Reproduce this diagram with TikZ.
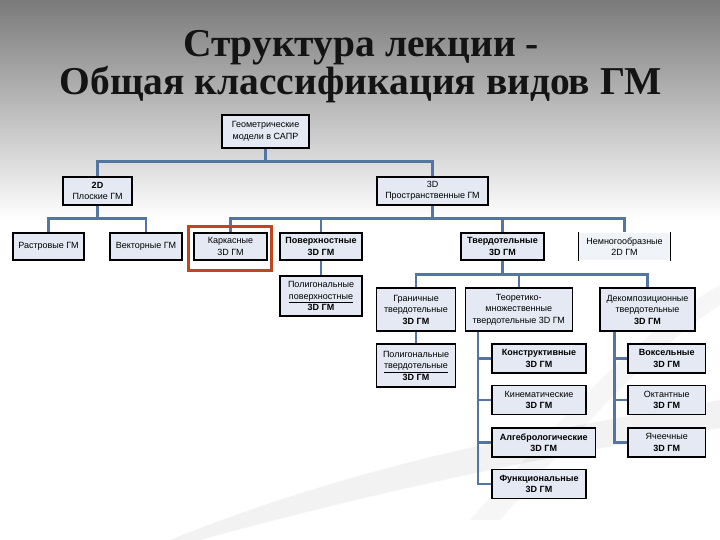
\documentclass[tikz,border=0pt]{standalone}
\usepackage{fontspec}
\setmainfont{Liberation Sans}
\newfontfamily\titlefont{Liberation Serif}
\usetikzlibrary{positioning}

\definecolor{boxfill}{RGB}{228,233,243}
\definecolor{linkblue}{RGB}{84,116,162}
\definecolor{markred}{RGB}{192,70,30}
\definecolor{bgtop}{RGB}{122,122,122}

\tikzset{
  gm/.style={draw=black, line width=1.1pt, fill=boxfill, align=center, inner sep=1pt,
    font=\fontsize{9}{11.5}\selectfont,
    execute at begin node={\setlength{\baselineskip}{11.5pt}}},
  gmb/.style={gm, font=\fontsize{9}{11.5}\selectfont\bfseries},
  link/.style={draw=linkblue, line width=2.2pt},
  heading/.style={font=\titlefont\bfseries\fontsize{39.5}{34}\selectfont, align=center},
}

\begin{document}
\begin{tikzpicture}[x=1pt,y=-1pt]
\useasboundingbox (0,0) rectangle (720,540);
% фон
\fill[white] (0,0) rectangle (720,540);
\shade[top color=bgtop, bottom color=white] (0,0) rectangle (720,220);
\fill[gray,opacity=0.10] (170,540) .. controls (380,455) and (580,425) .. (720,400)
  -- (720,428) .. controls (580,450) and (400,485) .. (200,540) -- cycle;
\fill[gray,opacity=0.07] (470,520) .. controls (560,420) and (640,330) .. (720,285)
  -- (720,305) .. controls (650,350) and (580,430) .. (500,520) -- cycle;

% заголовок
\node[heading, text=black!92] (title) at (361,67) {Структура лекции -\\Общая классификация видов ГМ};

% уровень 1-2
\node[gm, minimum width=87pt, minimum height=33pt] (geom) at (265.5,131.5) {Геометрические\\модели в САПР};
\node[gm, minimum width=69pt, minimum height=28pt] (d2) at (97.5,191) {\textbf{2D}\\Плоские ГМ};
\node[gm, minimum width=111pt, minimum height=28pt] (d3) at (432.5,191) {3D\\Пространственные ГМ};

% уровень 3
\node[gm, minimum width=71pt, minimum height=27pt] (rast) at (48.5,246.5) {Растровые ГМ};
\node[gm, minimum width=72pt, minimum height=27pt] (vect) at (146,246.5) {Векторные ГМ};
\node[gm, minimum width=73pt, minimum height=27pt] (kark) at (230.5,246.5) {Каркасные\\3D ГМ};
\node[gmb, minimum width=82pt, minimum height=27pt] (pov) at (321,246.5) {Поверхностные\\3D ГМ};
\node[gmb, minimum width=83pt, minimum height=27pt] (tverd) at (502.5,246.5) {Твердотельные\\3D ГМ};
\node[gm, draw=none, fill=boxfill!55!white, minimum width=91pt, minimum height=27pt] (nemn) at (624.5,246.5) {Немногообразные\\2D ГМ};
\draw[line width=1.1pt] (nemn.north west) -- (nemn.south west) (nemn.north east) -- (nemn.south east);

% уровень 4
\node[gm, minimum width=82pt, minimum height=40pt] (polpov) at (321,296) {Полигональные\\\underline{поверхностные}\\\textbf{3D ГМ}};
\node[gm, minimum width=79pt, minimum height=43pt] (gran) at (416,309.5) {Граничные\\твердотельные\\\textbf{3D ГМ}};
\node[gm, minimum width=107pt, minimum height=43pt] (teor) at (518.75,309.5) {Теоретико-\\множественные\\твердотельные 3D ГМ};
\node[gm, minimum width=95pt, minimum height=43pt] (dekomp) at (647.5,309.5) {Декомпозиционные\\твердотельные\\\textbf{3D ГМ}};
\node[gm, minimum width=79pt, minimum height=43pt] (poltv) at (416,365.5) {Полигональные\\\underline{твердотельные}\\\textbf{3D ГМ}};

% уровень 5
\node[gmb, minimum width=94pt, minimum height=29pt] (konstr) at (539,358.5) {Конструктивные\\3D ГМ};
\node[gm, minimum width=94pt, minimum height=29pt] (kinem) at (539,400) {Кинематические\\\textbf{3D ГМ}};
\node[gmb, minimum width=103.5pt, minimum height=29pt] (algebr) at (543.75,442.5) {Алгебрологические\\3D ГМ};
\node[gmb, minimum width=94pt, minimum height=29pt] (funk) at (539,484) {Функциональные\\3D ГМ};
\node[gmb, minimum width=77.5pt, minimum height=29pt] (voks) at (666.75,358.5) {Воксельные\\3D ГМ};
\node[gm, minimum width=77.5pt, minimum height=29pt] (okt) at (666.75,400) {Октантные\\\textbf{3D ГМ}};
\node[gm, minimum width=77.5pt, minimum height=29pt] (yach) at (666.75,442.5) {Ячеечные\\\textbf{3D ГМ}};

% связи
\draw[link] (geom.south) -- ++(0,13) -| (d2.north);
\draw[link] (geom.south) -- ++(0,13) -| (d3.north);
\draw[link] (d2.south) -- ++(0,13) -| (rast.north);
\draw[link] (d2.south) -- ++(0,13) -| (vect.north);
\foreach \n in {kark,pov,tverd,nemn}
  \draw[link] (d3.south) -- ++(0,13) -| (\n.north);
\draw[link] (pov.south) -- (polpov.north);
\foreach \n in {gran,teor,dekomp}
  \draw[link] (tverd.south) -- ++(0,14) -| (\n.north);
\draw[link] (gran.south) -- (poltv.north);
\foreach \n in {konstr,kinem,algebr,funk}
  \draw[link] ([xshift=13.5pt]teor.south west) |- (\n.west);
\foreach \n in {voks,okt,yach}
  \draw[link] ([xshift=15pt]dekomp.south west) |- (\n.west);

% выделение
\draw[markred, line width=3pt] (188,227) rectangle (271,270);
\end{tikzpicture}
\end{document}
